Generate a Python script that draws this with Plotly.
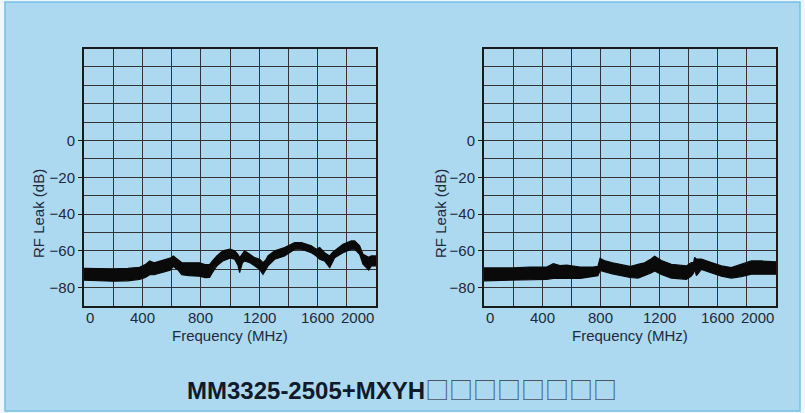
import plotly.graph_objects as go

# ---------------- data ----------------
# Left panel: envelope of the (thick, noisy) RF leak trace
left_freq = [0, 100, 200, 300, 380, 420, 450, 480, 540, 590, 612, 645, 670, 720, 790,
             830, 860, 880, 910, 950, 1000, 1032, 1055, 1066, 1085, 1100, 1135, 1169,
             1203, 1226, 1245, 1260, 1306, 1374, 1443, 1489, 1557, 1591, 1614, 1648,
             1683, 1700, 1717, 1774, 1831, 1854, 1888, 1911, 1934, 1950, 1968, 2000]
left_upper = [-69.5, -69.8, -69.8, -69.5, -69.0, -67.5, -65.5, -66.5, -65.0, -64.0, -62.8,
              -65.0, -66.5, -66.5, -66.5, -67.5, -67.5, -65.5, -62.8, -60.0, -59.1, -60.0,
              -62.0, -63.7, -61.5, -60.0, -61.9, -63.7, -64.6, -66.4, -65.0, -62.8, -60.0,
              -58.2, -55.5, -55.5, -57.3, -59.1, -58.2, -61.0, -62.8, -61.0, -60.0, -56.4,
              -54.6, -54.6, -57.3, -61.9, -62.8, -63.5, -62.8, -62.8]
left_lower = [-76.0, -76.2, -76.5, -76.3, -75.5, -74.5, -73.0, -73.0, -71.5, -70.5, -68.5,
              -70.5, -73.0, -73.5, -73.8, -74.6, -74.5, -71.8, -68.2, -65.5, -64.0, -64.6,
              -68.0, -71.8, -66.5, -65.5, -66.4, -68.2, -70.0, -72.8, -70.5, -68.2, -64.6,
              -62.8, -59.1, -59.1, -61.0, -62.8, -64.6, -65.5, -69.1, -66.0, -63.7, -61.0,
              -59.1, -59.1, -61.9, -67.3, -69.1, -70.5, -68.2, -68.2]

# Right panel
right_freq = [0, 100, 200, 315, 430, 475, 520, 566, 658, 747, 780, 795, 830, 880, 932,
              1000, 1055, 1100, 1144, 1169, 1215, 1283, 1386, 1420, 1435, 1443, 1455,
              1489, 1557, 1626, 1694, 1762, 1831, 1900, 2000]
right_upper = [-69.3, -69.5, -69.3, -68.8, -68.8, -67.0, -68.0, -67.8, -68.8, -68.8, -68.5,
               -64.1, -65.5, -66.5, -67.5, -68.5, -67.3, -66.5, -64.5, -63.0, -65.3, -67.3,
               -68.2, -66.4, -66.4, -63.6, -64.5, -64.5, -66.4, -68.2, -69.1, -67.3, -65.5,
               -65.5, -66.0]
right_lower = [-76.3, -76.3, -76.3, -75.7, -75.5, -75.0, -75.0, -75.0, -75.0, -74.0, -73.5,
               -70.7, -71.5, -72.5, -73.5, -74.5, -74.8, -73.5, -72.0, -71.0, -72.8, -74.8,
               -75.5, -73.7, -72.0, -70.1, -73.5, -70.1, -71.8, -73.8, -74.8, -74.0, -72.7,
               -72.7, -72.7]

x_tick_vals = [0, 400, 800, 1200, 1600, 2000]
x_tick_text = ["0", "400", "800", "1200", "1600", "2000"]
y_tick_vals = [0, -20, -40, -60, -80]
y_tick_text = ["0", "\u221220", "\u221240", "\u221260", "\u221280"]
x_title = "Frequency (MHz)"
y_title = "RF Leak (dB)"
chart_title = "MM3325-2505+MXYH"
title_boxes = "\u25a1" * 8

# ---------------- layout constants ----------------
W, H = 805, 413
FONT = "Liberation Sans, Arial, Helvetica, sans-serif"
TXT = "#1e2a3e"
GRID = "#333333"
FS = 15

def px_x(p):
    return p / W

def px_y(p):
    return 1 - p / H

fig = go.Figure()

panels = [
    (left_freq, left_upper, left_lower, "x", "y"),
    (right_freq, right_upper, right_lower, "x2", "y2"),
]
for fr, up, lo, xa, ya in panels:
    fig.add_trace(go.Scatter(
        x=list(fr) + list(fr)[::-1],
        y=list(up) + list(lo)[::-1],
        xaxis=xa, yaxis=ya,
        mode="lines", fill="toself", fillcolor="#0a0a0a",
        line=dict(color="#0a0a0a", width=1.2),
        hoverinfo="skip", showlegend=False,
    ))

def xaxis(domain):
    return dict(
        domain=domain, range=[0, 2000], tickvals=x_tick_vals, showticklabels=False,
        ticks="", showgrid=True, gridcolor=GRID, gridwidth=1,
        minor=dict(dtick=200, tick0=0, showgrid=True, gridcolor=GRID, gridwidth=1, ticks=""),
        showline=True, mirror=True, linecolor="#1a1a1a", linewidth=2, zeroline=False,
        fixedrange=True,
    )

def yaxis(domain, anchor):
    return dict(
        domain=domain, anchor=anchor, range=[-90, 50], tickvals=y_tick_vals, ticktext=y_tick_text,
        ticks="outside", ticklen=4, tickcolor="#1a1a1a", tickwidth=1,
        tickfont=dict(family=FONT, size=FS, color=TXT),
        showgrid=True, gridcolor=GRID, gridwidth=1,
        minor=dict(dtick=10, tick0=0, showgrid=True, gridcolor=GRID, gridwidth=1, ticks=""),
        showline=True, mirror=True, linecolor="#1a1a1a", linewidth=2, zeroline=False,
        fixedrange=True,
    )

ydom = [px_y(306), px_y(48.5)]
fig.update_layout(
    width=W, height=H, margin=dict(l=0, r=0, t=0, b=0),
    paper_bgcolor="#eef7fb", plot_bgcolor="white",
    xaxis=xaxis([px_x(84), px_x(376)]),
    yaxis=yaxis(ydom, "x"),
    xaxis2=dict(xaxis([px_x(484), px_x(776)]), anchor="y2"),
    yaxis2=yaxis(ydom, "x2"),
    showlegend=False,
)

# background panel with border
fig.add_shape(type="rect", xref="paper", yref="paper", layer="below",
              x0=px_x(5), x1=px_x(800), y0=px_y(411), y1=px_y(2),
              fillcolor="#acd9f0", line=dict(color="#74bfe4", width=1.5))

annotations = []
for xa, cx, tx in [("x", 230, 38), ("x2", 630, 440)]:
    n = len(x_tick_vals)
    for i, (v, t) in enumerate(zip(x_tick_vals, x_tick_text)):
        anchor = "left" if i == 0 else ("right" if i == n - 1 else "center")
        annotations.append(dict(x=v, xref=xa, y=px_y(317), yref="paper", text=t,
                                showarrow=False, xanchor=anchor, yanchor="middle",
                                font=dict(family=FONT, size=FS, color=TXT)))
    annotations.append(dict(x=px_x(cx), xref="paper", y=px_y(335), yref="paper", text=x_title,
                            showarrow=False, xanchor="center", yanchor="middle",
                            font=dict(family=FONT, size=FS, color=TXT)))
    annotations.append(dict(x=px_x(tx), xref="paper", y=px_y(214), yref="paper", text=y_title,
                            textangle=-90, showarrow=False, xanchor="center", yanchor="middle",
                            font=dict(family=FONT, size=FS, color=TXT)))

annotations.append(dict(
    x=px_x(402), xref="paper", y=px_y(388), yref="paper",
    text=("<b>" + chart_title + "</b>"
          + "<span style='font-family:Noto Sans CJK JP;font-weight:normal;color:#4a5566'>"
          + title_boxes + "</span>"),
    showarrow=False, xanchor="center", yanchor="middle",
    font=dict(family=FONT, size=24, color="#111a2a")))

fig.update_layout(annotations=annotations)

fig.write_html("out.html", config={"displayModeBar": False},
               post_script="document.body.style.margin='0px';")
